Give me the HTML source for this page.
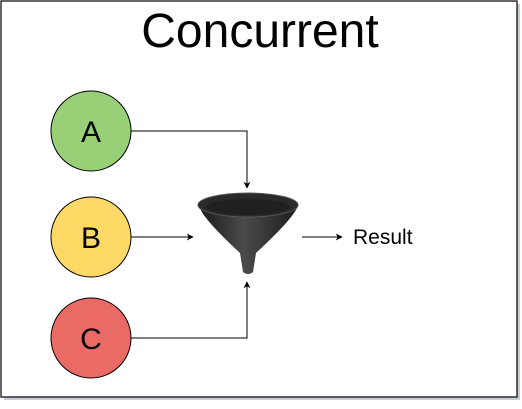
<!DOCTYPE html>
<html><head><style>body{margin:0;background:#fff}</style></head><body>
<svg width="522" height="404" xmlns="http://www.w3.org/2000/svg" font-family="Liberation Sans, sans-serif">
<defs>
<linearGradient id="fc" x1="0" x2="1"><stop offset="0" stop-color="#1a1a1a"/><stop offset="0.45" stop-color="#4a4a4a"/><stop offset="1" stop-color="#1e1e1e"/></linearGradient>
<marker id="ar" viewBox="0 0 10 10" refX="9" refY="5" markerWidth="7" markerHeight="7" orient="auto"><path d="M0,0 L10,5 L0,10 L3,5 z" fill="#000"/></marker>
</defs>
<rect x="4" y="4" width="516" height="396" fill="#c8ccd8"/>
<rect x="1" y="1" width="516" height="396" fill="#fff" stroke="#000" stroke-width="1.2"/>
<text x="260" y="47" font-size="48" text-anchor="middle">Concurrent</text>
<circle cx="91" cy="131" r="40" fill="#97d077" stroke="#000"/>
<circle cx="91" cy="237" r="40" fill="#ffd966" stroke="#000"/>
<circle cx="91" cy="338" r="40" fill="#ea6b66" stroke="#000"/>
<text x="91" y="142" font-size="30" text-anchor="middle">A</text>
<text x="91" y="248" font-size="30" text-anchor="middle">B</text>
<text x="91" y="349" font-size="30" text-anchor="middle">C</text>
<g stroke="#000" fill="none" stroke-width="1">
<path d="M131,131 H247 V188" marker-end="url(#ar)"/>
<path d="M131,237 H193" marker-end="url(#ar)"/>
<path d="M131,338 H247 V282" marker-end="url(#ar)"/>
<path d="M302,237 H342" marker-end="url(#ar)"/>
</g>
<path d="M199,205 Q200,216 240,253 L243,272 Q248,276 253,272 L256,253 Q296,216 298,205 Z" fill="url(#fc)"/>
<ellipse cx="248" cy="205" rx="50" ry="12" fill="#2a2a2a" stroke="#555"/>
<ellipse cx="248" cy="207" rx="42" ry="8" fill="#202020"/>
<text x="353" y="244" font-size="21">Result</text>
</svg>
</body></html>
